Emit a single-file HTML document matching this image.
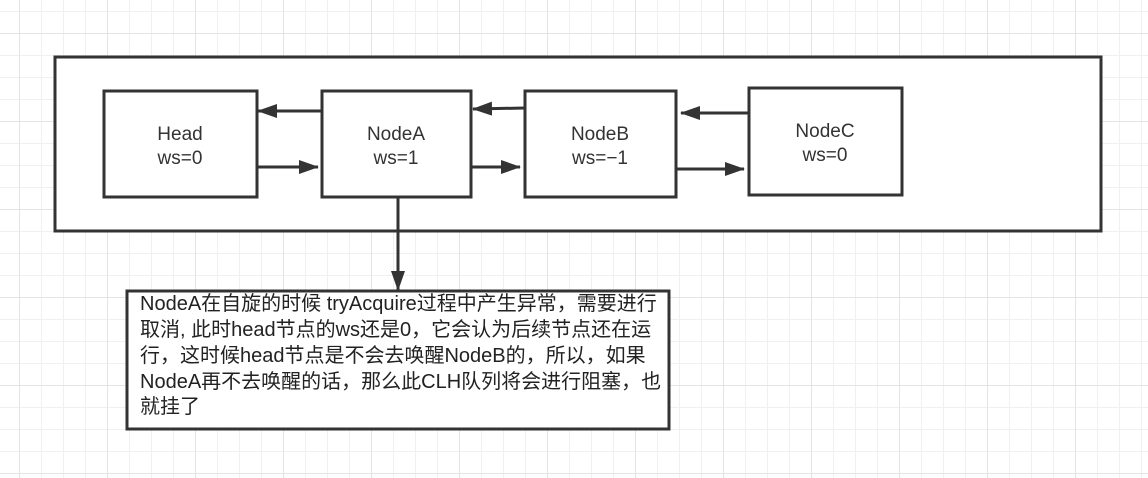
<!DOCTYPE html>
<html><head><meta charset="utf-8"><style>
html,body{margin:0;padding:0}
body{width:1148px;height:478px;position:relative;overflow:hidden;background:#fff;
background-image:
linear-gradient(#e4e4e4 1px,transparent 1px),linear-gradient(90deg,#e4e4e4 1px,transparent 1px),
linear-gradient(#f0f0f0 1px,transparent 1px),linear-gradient(90deg,#f0f0f0 1px,transparent 1px);
background-size:88px 88px,88px 88px,22px 22px,22px 22px;
background-position:0 33px,19px 0,0 11px,19px 0;
font-family:"Liberation Sans","Noto Sans CJK SC",sans-serif;color:#333}
</style></head><body>
<svg width="1148" height="478" style="position:absolute;left:0;top:0" font-family="Liberation Sans, Noto Sans CJK SC, sans-serif">
<defs>
<marker id="b" markerWidth="20" markerHeight="14" refX="19" refY="7" orient="auto" markerUnits="userSpaceOnUse"><path d="M0,0 L20,7 L0,14 z" fill="#333"/></marker></defs>
<g stroke="#333" stroke-width="3" fill="#fff">
<rect x="55" y="57" width="1046" height="174"/>
<rect x="104" y="91" width="153" height="106"/>
<rect x="322" y="91" width="149" height="106"/>
<rect x="525" y="91" width="151" height="106"/>
<rect x="749" y="88" width="153" height="107"/>
<rect x="127" y="291" width="542" height="138"/>
</g>
<g stroke="#333" stroke-width="3">
<line x1="322" y1="111" x2="258" y2="111" marker-end="url(#b)"/>
<line x1="257" y1="167" x2="318" y2="167" marker-end="url(#b)"/>
<line x1="525" y1="108" x2="473" y2="109" marker-end="url(#b)"/>
<line x1="471" y1="167" x2="520" y2="167" marker-end="url(#b)"/>
<line x1="749" y1="113" x2="681" y2="113" marker-end="url(#b)"/>
<line x1="677" y1="169" x2="744" y2="169" marker-end="url(#b)"/>
<line x1="398" y1="197" x2="398" y2="290" marker-end="url(#b)"/>
</g>
<g font-size="19" fill="#333" text-anchor="middle">
<text x="180" y="140">Head</text><text x="180" y="164">ws=0</text>
<text x="396" y="140">NodeA</text><text x="396" y="164">ws=1</text>
<text x="600" y="140">NodeB</text><text x="600" y="164">ws=−1</text>
<text x="825" y="137">NodeC</text><text x="825" y="161">ws=0</text>
</g>
<g font-size="20" fill="#222">
<text x="140" y="310">NodeA在自旋的时候 tryAcquire过程中产生异常，需要进行</text>
<text x="140" y="336">取消, 此时head节点的ws还是0，它会认为后续节点还在运</text>
<text x="140" y="362">行，这时候head节点是不会去唤醒NodeB的，所以，如果</text>
<text x="140" y="388">NodeA再不去唤醒的话，那么此CLH队列将会进行阻塞，也</text>
<text x="140" y="413">就挂了</text>
</g>
</svg>
</body></html>
